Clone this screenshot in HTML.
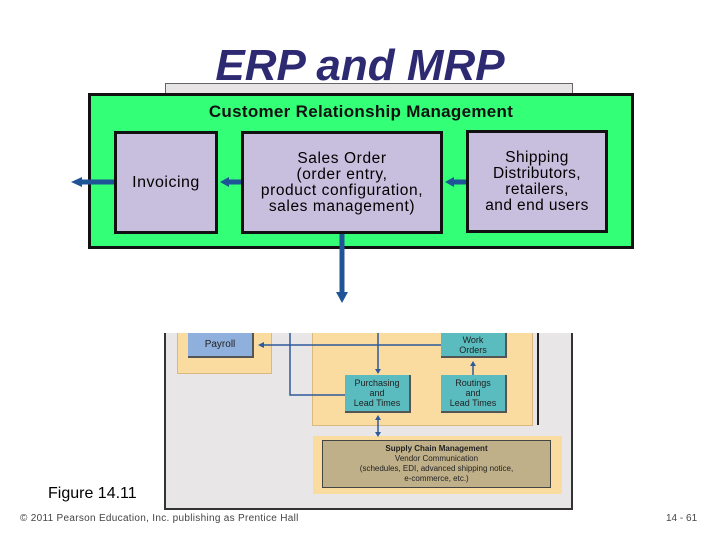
<!DOCTYPE html>
<html><head><style>
body{margin:0;width:720px;height:540px;background:#fff;position:relative;overflow:hidden;font-family:"Liberation Sans",sans-serif}
.a{position:absolute;box-sizing:border-box}
.c{display:flex;align-items:center;justify-content:center;text-align:center}
</style></head><body>
<div class="a" style="left:0;width:720px;top:41px;text-align:center;font-size:44px;font-weight:bold;font-style:italic;color:#2e2a72;line-height:50px">ERP and MRP</div>
<div class="a" style="left:165px;top:83px;width:408px;height:12px;background:#e6e4e4;border:1px solid #666"></div>
<div class="a" style="left:164px;top:333px;width:409px;height:177px;background:#e8e6e6;border:2px solid #333;border-top:none"></div>
<div class="a" style="left:177px;top:333px;width:95px;height:41px;background:#fbdca0;border:1px solid #d9b980;border-top:none"></div>
<div class="a c" style="left:188px;top:333px;width:66px;height:25px;background:#8fb0dc;border-right:2px solid #555;border-bottom:2px solid #555;font-size:10px;color:#222">Payroll</div>
<div class="a" style="left:312px;top:333px;width:221px;height:93px;background:#fbdca0;border:1px solid #d9b980;border-top:none"></div>
<div class="a" style="left:536px;top:333px;width:3px;height:92px;border-right:2px solid #222"></div>
<div class="a c" style="left:441px;top:333px;width:66px;height:25px;background:#5bbcc0;border-right:2px solid #555;border-bottom:2px solid #555;font-size:9px;color:#222;line-height:10px">Work<br>Orders</div>
<div class="a c" style="left:345px;top:375px;width:66px;height:38px;background:#5bbcc0;border-right:2px solid #555;border-bottom:2px solid #555;font-size:9px;color:#222;line-height:10px">Purchasing<br>and<br>Lead Times</div>
<div class="a c" style="left:441px;top:375px;width:66px;height:38px;background:#5bbcc0;border-right:2px solid #555;border-bottom:2px solid #555;font-size:9px;color:#222;line-height:10px">Routings<br>and<br>Lead Times</div>
<div class="a" style="left:313px;top:436px;width:249px;height:58px;background:#fbdca0"></div>
<div class="a c" style="left:322px;top:440px;width:229px;height:48px;background:#bfb08a;border:1px solid #444;font-size:8px;color:#222;line-height:10px"><div><b>Supply Chain Management</b><br>Vendor Communication<br>(schedules, EDI, advanced shipping notice,<br>e-commerce, etc.)</div></div>
<svg class="a" style="left:0;top:0" width="720" height="540">
<g stroke="#2d5a9a" stroke-width="1.5" fill="none">
<path d="M441 345H262"/><path d="M378 333V370"/><path d="M290 333V395H345"/><path d="M473 375V363"/><path d="M378 420V433"/>
</g>
<g fill="#2d5a9a"><path d="M258 345l6-3v6z"/><path d="M378 374l-3-5h6z"/><path d="M473 361l-3 5h6z"/><path d="M378 415l-3 5h6z"/><path d="M378 437l-3-5h6z"/></g>
</svg>
<div class="a" style="left:88px;top:93px;width:546px;height:156px;background:#33ff77;border:3px solid #111"></div>
<div class="a" style="left:88px;top:102px;width:546px;text-align:center;font-weight:bold;font-size:17px;letter-spacing:0.3px;color:#111">Customer Relationship Management</div>
<div class="a c" style="left:114px;top:131px;width:104px;height:103px;background:#c8bedd;border:3px solid #111;font-size:16px;letter-spacing:0.5px">Invoicing</div>
<div class="a c" style="left:241px;top:131px;width:202px;height:103px;background:#c8bedd;border:3px solid #111;font-size:15.5px;letter-spacing:0.6px;line-height:16px">Sales Order<br>(order entry,<br>product configuration,<br>sales management)</div>
<div class="a c" style="left:466px;top:130px;width:142px;height:103px;background:#c8bedd;border:3px solid #111;font-size:15.5px;letter-spacing:0.4px;line-height:16px">Shipping<br>Distributors,<br>retailers,<br>and end users</div>
<svg class="a" style="left:0;top:0" width="720" height="540">
<g stroke="#1f5597" stroke-width="5"><path d="M342 234V294"/><path d="M114 182H82"/><path d="M241 182H228"/><path d="M466 182H453"/></g>
<g fill="#1f5597"><path d="M336 292h12l-6 11z"/><path d="M71 182l11-5v10z"/><path d="M220 182l9-5v10z"/><path d="M445 182l9-5v10z"/></g>
</svg>
<div class="a" style="left:48px;top:485px;font-size:16px;color:#000">Figure 14.11</div>
<div class="a" style="left:20px;top:513px;font-size:10px;letter-spacing:0.3px;color:#444">© 2011 Pearson Education, Inc. publishing as Prentice Hall</div>
<div class="a" style="left:666px;top:513px;font-size:10px;color:#444">14 - 61</div>
</body></html>
